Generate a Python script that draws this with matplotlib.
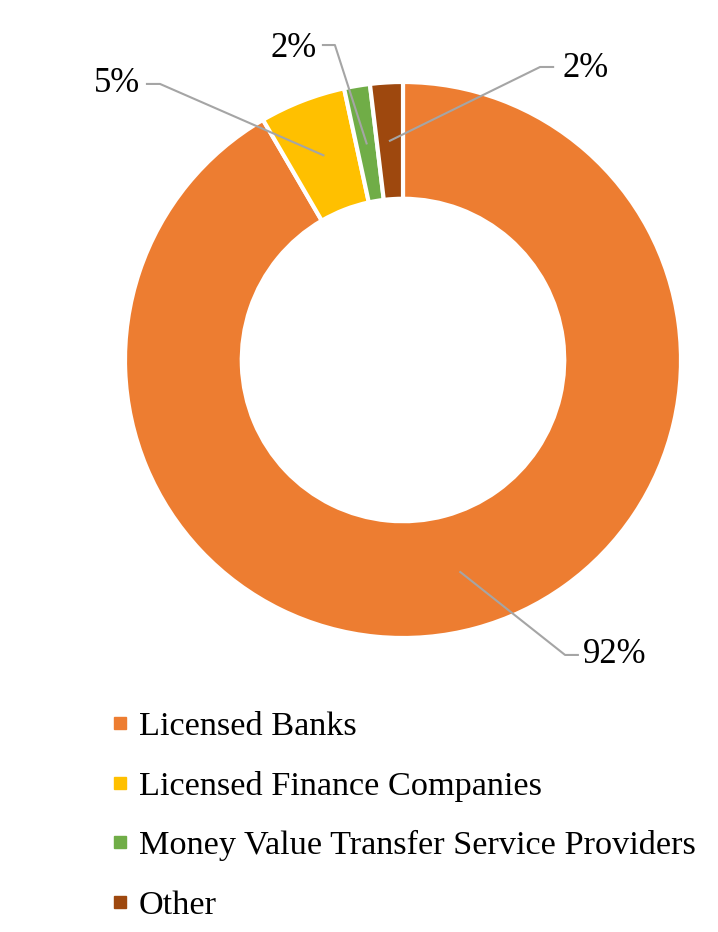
import numpy as np
import matplotlib
matplotlib.use("Agg")
import matplotlib.pyplot as plt
from matplotlib.lines import Line2D

plt.rcParams["font.family"] = ["Liberation Serif", "DejaVu Serif"]

# ── data ────────────────────────────────────────────────
categories = ["Licensed Banks", "Licensed Finance Companies",
              "Money Value Transfer Service Providers", "Other"]
shares = [91.6, 5.0, 1.5, 1.9]
labels = ["92%", "5%", "2%", "2%"]
colors = ["#ED7D31", "#FFC000", "#70AD47", "#9E480E"]

LINE = "#A5A5A5"
W, H = 718, 932
CX, CY, R = 403, 360, 278

fig = plt.figure(figsize=(W / 100, H / 100), dpi=100)
ax = fig.add_axes([(CX - R) / W, (H - CY - R) / H, 2 * R / W, 2 * R / H])

wedges, _ = ax.pie(shares, colors=colors, startangle=90, counterclock=False,
                   radius=1.0,
                   wedgeprops=dict(width=0.42, edgecolor="white", linewidth=3))
ax.set_xlim(-1, 1)
ax.set_ylim(-1, 1)
ax.set_aspect("equal")
ax.axis("off")

# label layout: (elbow, line end, text x, text y, ha)
layout = [
    ((0.583, -1.061), (0.629, -1.061), 0.647, -1.061, "left"),
    ((-0.874, 0.993), (-0.921, 0.993), -0.946, 0.993, "right"),
    ((-0.245, 1.133), (-0.288, 1.133), -0.309, 1.122, "right"),
    ((0.493, 1.054), (0.540, 1.054), 0.572, 1.050, "left"),
]

for w, lab, (elb, end, tx, ty, ha) in zip(wedges, labels, layout):
    mid = np.deg2rad((w.theta1 + w.theta2) / 2)
    ax0 = 0.79 * np.cos(mid)
    ay0 = 0.79 * np.sin(mid)
    ax.plot([ax0, elb[0], end[0]], [ay0, elb[1], end[1]], color=LINE,
            lw=1.5, clip_on=False, zorder=5)
    ax.text(tx, ty, lab, ha=ha, va="center", fontsize=25, color="black",
            clip_on=False)

handles = [Line2D([], [], marker="s", linestyle="none", markersize=8,
                  markerfacecolor=c, markeredgecolor=c) for c in colors]
fig.legend(handles, categories, loc="upper left",
           bbox_to_anchor=(96 / W, 1 - 697 / H), frameon=False,
           fontsize=24.7, handlelength=0.6, handletextpad=0.25,
           labelspacing=0.84, borderaxespad=0)

fig.savefig("out.png", dpi=100, facecolor="white")
